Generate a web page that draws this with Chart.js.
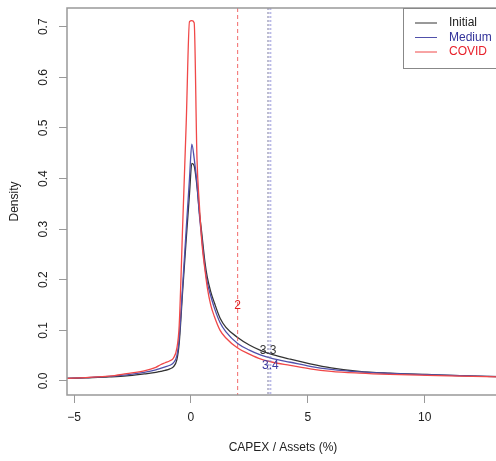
<!DOCTYPE html>
<html>
<head>
<meta charset="utf-8">
<script src="https://cdn.jsdelivr.net/npm/chart.js@4/dist/chart.umd.min.js"></script>
<style>
  html, body { margin: 0; padding: 0; background: #fff; overflow: hidden; }
  #wrap { width: 500px; height: 461px; }
</style>
</head>
<body>
<div id="wrap"><canvas id="densityChart" width="500" height="461"></canvas></div>
<script>
// 密度曲線のデータ
const xValues = [-5.3, -4.5, -3.5, -2.75, -2, -1.5, -1.3, -1.1, -0.9, -0.75, -0.6, -0.5, -0.35, -0.2, -0.06, 0.04, 0.14, 0.26, 0.36, 0.47, 0.6, 0.7, 0.85, 1.0, 1.25, 1.5, 2, 2.5, 3, 3.5, 4.25, 5.1, 6, 7.2, 8.5, 10.1, 11.5, 13.2];

const initialDensity = [0.005, 0.0063, 0.008, 0.010, 0.014, 0.017, 0.019, 0.021, 0.024, 0.028, 0.042, 0.075, 0.18, 0.28, 0.37, 0.43, 0.425, 0.385, 0.335, 0.29, 0.235, 0.205, 0.176, 0.155, 0.124, 0.106, 0.086, 0.071, 0.060, 0.052, 0.043, 0.034, 0.026, 0.019, 0.0155, 0.0128, 0.0105, 0.0085];

const mediumDensity = [0.005, 0.0065, 0.009, 0.012, 0.017, 0.022, 0.025, 0.028, 0.031, 0.036, 0.05, 0.085, 0.19, 0.30, 0.40, 0.468, 0.44, 0.39, 0.33, 0.28, 0.225, 0.195, 0.168, 0.145, 0.115, 0.097, 0.074, 0.061, 0.051, 0.044, 0.037, 0.029, 0.023, 0.018, 0.015, 0.0125, 0.0105, 0.0085];

const covidDensity = [0.005, 0.0068, 0.0095, 0.0145, 0.020, 0.027, 0.032, 0.036, 0.040, 0.045, 0.065, 0.11, 0.31, 0.51, 0.71, 0.712, 0.708, 0.44, 0.35, 0.273, 0.22, 0.185, 0.15, 0.128, 0.10, 0.085, 0.065, 0.053, 0.043, 0.037, 0.031, 0.024, 0.019, 0.0155, 0.013, 0.011, 0.0095, 0.008];

// 軸の目盛り
const xTicks = [-5, 0, 5, 10];
const xTickLabels = ['\u22125', '0', '5', '10'];
const yTicks = [0, 0.1, 0.2, 0.3, 0.4, 0.5, 0.6, 0.7];
const yTickLabels = ['0.0', '0.1', '0.2', '0.3', '0.4', '0.5', '0.6', '0.7'];

// 平均値の縦線とラベル
const meanLines = [
  { x: 2, color: 'rgba(240,80,80,0.85)', dash: [4, 3], width: 1 },
  { x: 3.3, color: 'rgba(120,120,160,0.5)', dash: [2, 2], width: 2 },
  { x: 3.4, color: 'rgba(120,120,210,0.5)', dash: [2, 2], width: 2 }
];
const meanLabels = [
  { x: 2, y: 0.148, text: '2', color: '#e02020' },
  { x: 3.3, y: 0.059, text: '3.3', color: '#333' },
  { x: 3.4, y: 0.030, text: '3.4', color: '#3c3ca0' }
];

const seriesNames = ['Initial', 'Medium', 'COVID'];
const lineColors = ['#333333', '#5050aa', '#f04848'];
const legendTextColors = ['#222222', '#33339a', '#e8202a'];

const FONT = '12px "Liberation Sans", Arial, sans-serif';

function toPoints(values) {
  return values.map((v, i) => ({ x: xValues[i], y: v }));
}

// 枠・目盛りラベル・凡例などを描くプラグイン
const decorPlugin = {
  id: 'decor',
  afterDatasetsDraw(chart) {
    const { ctx, chartArea: a, scales } = chart;
    const xs = scales.x, ys = scales.y;
    ctx.save();

    // 縦線
    ctx.save();
    ctx.beginPath();
    ctx.rect(a.left, a.top, a.right - a.left, a.bottom - a.top);
    ctx.clip();
    meanLines.forEach(l => {
      const px = xs.getPixelForValue(l.x);
      ctx.beginPath();
      ctx.setLineDash(l.dash);
      ctx.strokeStyle = l.color;
      ctx.lineWidth = l.width;
      ctx.moveTo(px, a.top);
      ctx.lineTo(px, a.bottom);
      ctx.stroke();
    });
    ctx.restore();
    ctx.setLineDash([]);

    // 縦線のラベル
    ctx.font = FONT;
    ctx.textAlign = 'center';
    ctx.textBaseline = 'middle';
    meanLabels.forEach(l => {
      ctx.fillStyle = l.color;
      ctx.fillText(l.text, xs.getPixelForValue(l.x), ys.getPixelForValue(l.y));
    });

    // 外枠
    ctx.strokeStyle = '#999';
    ctx.lineWidth = 1.5;
    ctx.strokeRect(a.left, a.top, a.right - a.left, a.bottom - a.top);

    // x軸の目盛りラベル
    ctx.fillStyle = '#222';
    xTicks.forEach((v, i) => {
      ctx.fillText(xTickLabels[i], xs.getPixelForValue(v), 418);
    });

    // y軸の目盛りラベル（R風に回転）
    yTicks.forEach((v, i) => {
      ctx.save();
      ctx.translate(44, ys.getPixelForValue(v));
      ctx.rotate(-Math.PI / 2);
      ctx.fillText(yTickLabels[i], 0, 0);
      ctx.restore();
    });

    // 軸タイトル
    ctx.fillText('CAPEX / Assets (%)', 283, 448);
    ctx.save();
    ctx.translate(15, (a.top + a.bottom) / 2);
    ctx.rotate(-Math.PI / 2);
    ctx.fillText('Density', 0, 0);
    ctx.restore();

    // 凡例
    const lx = 403, ly = a.top;
    ctx.fillStyle = '#fff';
    ctx.fillRect(lx, ly, a.right - lx, 60);
    ctx.strokeStyle = '#888';
    ctx.lineWidth = 1;
    ctx.strokeRect(lx + 0.5, ly + 0.5, a.right - lx, 60);
    ctx.textAlign = 'left';
    seriesNames.forEach((name, i) => {
      const ry = ly + 15 + i * 14.5;
      ctx.beginPath();
      ctx.strokeStyle = lineColors[i];
      ctx.lineWidth = 1;
      ctx.moveTo(415, ry);
      ctx.lineTo(437, ry);
      ctx.stroke();
      ctx.fillStyle = legendTextColors[i];
      ctx.fillText(name, 449, ry);
    });

    ctx.restore();
  }
};

const ctx = document.getElementById('densityChart').getContext('2d');

new Chart(ctx, {
  type: 'line',
  data: {
    datasets: [
      { label: seriesNames[0], data: toPoints(initialDensity), borderColor: lineColors[0], order: 2 },
      { label: seriesNames[1], data: toPoints(mediumDensity), borderColor: lineColors[1], order: 1 },
      { label: seriesNames[2], data: toPoints(covidDensity), borderColor: lineColors[2], order: 0 }
    ]
  },
  options: {
    responsive: false,
    animation: false,
    events: [],
    layout: { padding: { top: 8, right: 1, left: 0, bottom: 0 } },
    elements: {
      line: { borderWidth: 1.3, cubicInterpolationMode: 'monotone', fill: false },
      point: { radius: 0 }
    },
    plugins: {
      legend: { display: false },
      tooltip: { enabled: false }
    },
    scales: {
      x: {
        type: 'linear',
        min: -5.3,
        max: 13.18,
        afterBuildTicks: scale => { scale.ticks = xTicks.map(v => ({ value: v })); },
        afterFit: scale => { scale.height = 66; },
        ticks: { display: false },
        grid: { drawOnChartArea: false, drawTicks: true, tickLength: 8, color: '#999', lineWidth: 1 },
        border: { display: false }
      },
      y: {
        type: 'linear',
        min: -0.0277,
        max: 0.737,
        afterBuildTicks: scale => { scale.ticks = yTicks.map(v => ({ value: v })); },
        afterFit: scale => { scale.width = 67; },
        ticks: { display: false },
        grid: { drawOnChartArea: false, drawTicks: true, tickLength: 8, color: '#999', lineWidth: 1 },
        border: { display: false }
      }
    }
  },
  plugins: [decorPlugin]
});
</script>
</body>
</html>
